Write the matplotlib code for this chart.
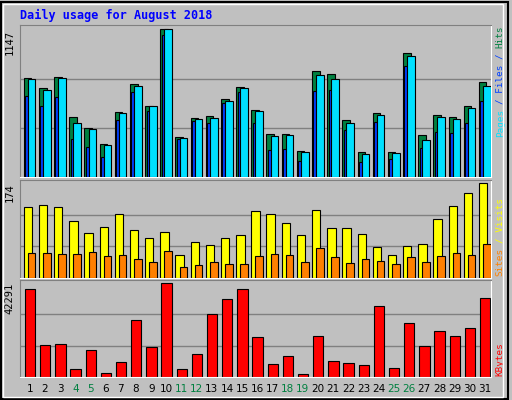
import matplotlib.pyplot as plt
import numpy as np

days = list(range(1, 32))
weekend = [4, 5, 11, 12, 18, 19, 25, 26]

hits = [766, 688, 781, 470, 384, 260, 509, 719, 555, 1147, 314, 462, 477, 610, 703, 524,
        337, 337, 205, 820, 804, 446, 197, 501, 197, 960, 330, 485, 470, 555, 742]
files = [758, 680, 766, 423, 376, 252, 501, 711, 548, 1147, 306, 454, 462, 594, 688, 516,
         322, 330, 197, 789, 758, 423, 182, 485, 189, 937, 291, 470, 454, 540, 711]
pages = [633, 555, 625, 298, 236, 158, 446, 664, 516, 1100, 298, 438, 423, 579, 657, 423,
         213, 221, 127, 672, 680, 368, 119, 431, 143, 859, 228, 353, 345, 423, 594]
visits = [130, 134, 130, 104, 83, 93, 117, 87, 74, 85, 42, 66, 60, 74, 79, 123,
          117, 100, 79, 125, 91, 91, 81, 57, 42, 59, 62, 108, 132, 155, 174]
sites = [45, 45, 43, 43, 47, 40, 42, 34, 30, 49, 21, 23, 30, 26, 26, 40,
         43, 42, 30, 55, 38, 28, 34, 32, 25, 38, 30, 40, 45, 42, 62]
kbytes = [39500, 14500, 14970, 3400, 12190, 2000, 6630, 25610, 13580, 42291, 3400, 10340,
          28390, 34870, 39500, 17740, 5710, 9410, 1540, 18210, 7100, 6170, 5250, 32090,
          3860, 24220, 14040, 20520, 18210, 21910, 35330]

BG = '#C0C0C0'
W, H = 512, 400
MONO = 'DejaVu Sans Mono'
fig = plt.figure(figsize=(W / 100, H / 100), dpi=100, facecolor=BG)
x = np.array(days)


def panel(top, bottom):
    ax = fig.add_axes([20 / W, 1 - bottom / H, 471 / W, (bottom - top) / H])
    ax.set_facecolor(BG)
    ax.set_xlim(0.35, 31.4)
    ax.set_xticks([])
    ax.set_yticks([])
    for s in ['top', 'left']:
        ax.spines[s].set_color('#808080')
    for s in ['bottom', 'right']:
        ax.spines[s].set_color('white')
    return ax


def grid(ax, mx):
    ax.set_ylim(0, mx * 1.03)
    for k in (1, 2):
        ax.axhline(mx * k / 3, color='#808080', lw=1, zorder=0)
    ax.text(-0.012, 1 - 0.03, str(mx), transform=ax.transAxes, rotation=90,
            ha='right', va='top', fontsize=7.5, family=MONO)


def side(ax, s, top_px, height_px, color):
    ax.text(1.01, 1 - top_px / height_px, s, transform=ax.transAxes, rotation=90,
            ha='left', va='top', color=color, fontsize=6.7, family=MONO)


kw = dict(edgecolor='black', linewidth=0.8, align='edge')

ax1 = panel(25, 177)
grid(ax1, max(hits))
ax1.bar(x - 0.4, hits, 0.5, color='#008040', **kw, zorder=2)
ax1.bar(x - 0.31, pages, 0.18, color='#0040FF', **kw, zorder=3)
ax1.bar(x - 0.13, files, 0.5, color='#00E0FF', **kw, zorder=4)
side(ax1, 'Hits', 0, 152, '#008040')
side(ax1, '/ Files /', 28, 152, '#0040FF')
side(ax1, 'Pages', 84, 152, '#00E0FF')

ax2 = panel(180, 278)
grid(ax2, max(visits))
ax2.bar(x - 0.4, visits, 0.55, color='#FFFF00', **kw, zorder=2)
ax2.bar(x - 0.13, sites, 0.5, color='#FF8000', **kw, zorder=3)
side(ax2, '/ Visits', 18, 98, '#FFFF00')
side(ax2, 'Sites', 68, 98, '#FF8000')

ax3 = panel(280, 377)
grid(ax3, max(kbytes))
ax3.bar(x - 0.33, kbytes, 0.68, color='#FF0000', **kw, zorder=2)
side(ax3, 'KBytes', 62, 97, '#FF0000')

for d in days:
    ax3.text(d, -0.12, str(d), transform=ax3.get_xaxis_transform(), ha='center', va='center',
             fontsize=7.5, color='#008040' if d in weekend else 'black')

fig.text(20 / W, 1 - 15 / H, 'Daily usage for August 2018', color='#0000FF', fontsize=8.5,
         weight='bold', family=MONO, va='center')

# outer border
fig.patches.append(plt.Rectangle((0.002, 0.003), 0.99, 0.992, transform=fig.transFigure,
                                 fill=False, edgecolor='black', lw=1.5))
fig.patches.append(plt.Rectangle((0.006, 0.008), 0.976, 0.982, transform=fig.transFigure,
                                 fill=False, edgecolor='white', lw=1))

fig.savefig('out.png', dpi=100, facecolor=BG)
